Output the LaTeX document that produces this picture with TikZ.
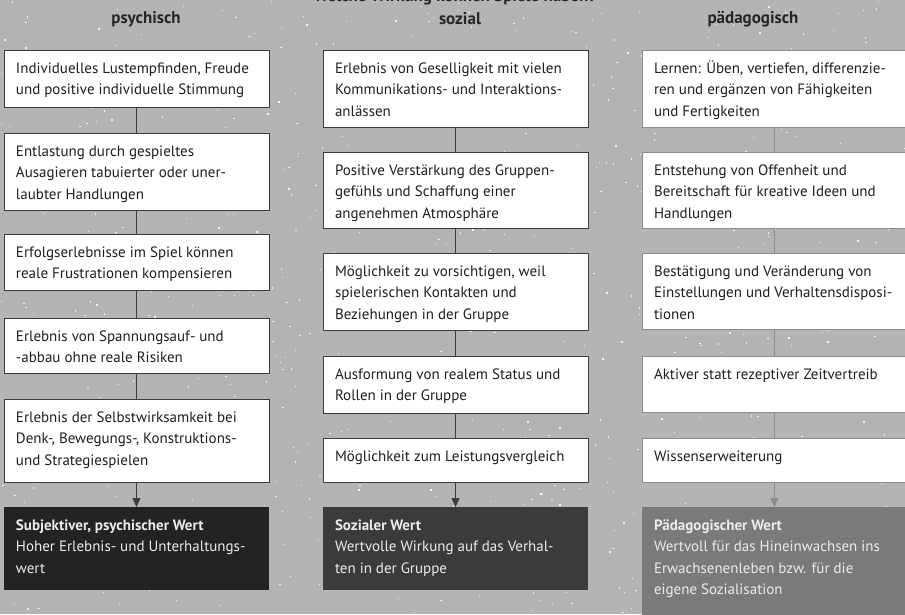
\documentclass[tikz,border=0pt]{standalone}
\usepackage{fontspec}
\setmainfont{PT Sans}
\usetikzlibrary{arrows.meta}

\definecolor{bggray}{HTML}{B4B4B4}
\definecolor{edgedark}{HTML}{3C3C3C}
\definecolor{edgelight}{HTML}{8C8C8C}
\definecolor{valuepsy}{HTML}{232323}
\definecolor{valuesoz}{HTML}{3B3B3B}
\definecolor{valuepaed}{HTML}{7A7A7A}

% text of a box: height of the whole box, then the lines
\newcommand{\celltext}[2]{\parbox[t][\dimexpr#1pt-16pt\relax][t]{241pt}{\raggedright\strut#2}}

\begin{document}
\begin{tikzpicture}[x=1pt,y=-1pt]
    % `cell' is used for the white boxes, `valuebox' for the dark ones.
    % `conn' is used for the lines between the boxes.
    \tikzstyle{cell} = [draw=edgedark,line width=0.8pt,fill=white,anchor=north west,
                        inner xsep=12pt,inner ysep=8pt,outer sep=0pt,
                        font=\fontsize{15}{21.5}\selectfont,text=black!88]
    \tikzstyle{valuebox} = [cell,draw=none,text=white!92!black]
    \tikzstyle{head} = [font=\fontsize{17}{20}\selectfont\bfseries,text=black!85]
    \tikzstyle{conn} = [draw=edgedark,line width=0.8pt]
    \tikzstyle{tip} = [-{Triangle[length=9pt,width=8pt]}]
    %
    \clip (0,0) rectangle (905,614);
    \fill[bggray] (0,0) rectangle (905,614);
    % speckles of the background
    \pgfmathsetseed{17}
    \foreach \i in {1,...,900} {
      \fill[white,opacity=0.8] ({905*rnd},{614*rnd}) rectangle ++(1.3,1.3);
    }
    %
    \node[head] (title) at (455,-3) {Welche Wirkung können Spiele haben?};
    \node[head] (hpsy) at (146,19) {psychisch};
    \node[head] (hsoz) at (460,19) {sozial};
    \node[head] (hpaed) at (753,19) {pädagogisch};
    %
    % psychisch
    \node[cell] (psy1) at (4,50) {\celltext{57}{Individuelles Lustempfinden, Freude\\und positive individuelle Stimmung}};
    \node[cell] (psy2) at (4,133) {\celltext{77}{Entlastung durch gespieltes\\Ausagieren tabuierter oder uner-\\laubter Handlungen}};
    \node[cell] (psy3) at (4,234) {\celltext{56}{Erfolgserlebnisse im Spiel können\\reale Frustrationen kompensieren}};
    \node[cell] (psy4) at (4,318) {\celltext{55}{Erlebnis von Spannungsauf- und\\-abbau ohne reale Risiken}};
    \node[cell] (psy5) at (4,399) {\celltext{83}{Erlebnis der Selbstwirksamkeit bei\\Denk-, Bewegungs-, Konstruktions-\\und Strategiespielen}};
    \node[valuebox,fill=valuepsy] (psyW) at (4,507) {\celltext{83}{\textbf{Subjektiver, psychischer Wert}\\Hoher Erlebnis- und Unterhaltungs-\\wert}};
    %
    % sozial
    \node[cell] (soz1) at (323,50) {\celltext{77}{Erlebnis von Geselligkeit mit vielen\\Kommunikations- und Interaktions-\\anlässen}};
    \node[cell] (soz2) at (323,152) {\celltext{76}{Positive Verstärkung des Gruppen-\\gefühls und Schaffung einer\\angenehmen Atmosphäre}};
    \node[cell] (soz3) at (323,253) {\celltext{77}{Möglichkeit zu vorsichtigen, weil\\spielerischen Kontakten und\\Beziehungen in der Gruppe}};
    \node[cell] (soz4) at (323,356) {\celltext{57}{Ausformung von realem Status und\\Rollen in der Gruppe}};
    \node[cell] (soz5) at (323,438) {\celltext{44}{Möglichkeit zum Leistungsvergleich}};
    \node[valuebox,fill=valuesoz] (sozW) at (323,507) {\celltext{83}{\textbf{Sozialer Wert}\\Wertvolle Wirkung auf das Verhal-\\ten in der Gruppe}};
    %
    % pädagogisch
    \node[cell,draw=edgelight] (paed1) at (642,50) {\celltext{77}{Lernen: Üben, vertiefen, differenzie-\\ren und ergänzen von Fähigkeiten\\und Fertigkeiten}};
    \node[cell,draw=edgelight] (paed2) at (642,152) {\celltext{76}{Entstehung von Offenheit und\\Bereitschaft für kreative Ideen und\\Handlungen}};
    \node[cell,draw=edgelight] (paed3) at (642,253) {\celltext{76}{Bestätigung und Veränderung von\\Einstellungen und Verhaltensdisposi-\\tionen}};
    \node[cell,draw=edgelight] (paed4) at (642,356) {\celltext{56}{Aktiver statt rezeptiver Zeitvertreib}};
    \node[cell,draw=edgelight] (paed5) at (642,438) {\celltext{44}{Wissenserweiterung}};
    \node[valuebox,fill=valuepaed] (paedW) at (642,507) {\celltext{125}{\textbf{Pädagogischer Wert}\\Wertvoll für das Hineinwachsen ins\\Erwachsenenleben bzw. für die\\eigene Sozialisation}};
    %
    % lines between the boxes
    \draw[conn] (psy1) -- (psy2) (psy2) -- (psy3) (psy3) -- (psy4) (psy4) -- (psy5);
    \draw[conn,tip] (psy5) -- (psyW);
    \draw[conn] (soz1) -- (soz2) (soz2) -- (soz3) (soz3) -- (soz4) (soz4) -- (soz5);
    \draw[conn,tip] (soz5) -- (sozW);
    \draw[conn,draw=edgelight] (paed1) -- (paed2) (paed2) -- (paed3) (paed3) -- (paed4) (paed4) -- (paed5);
    \draw[conn,draw=edgelight,tip] (paed5) -- (paedW);
\end{tikzpicture}
\end{document}
